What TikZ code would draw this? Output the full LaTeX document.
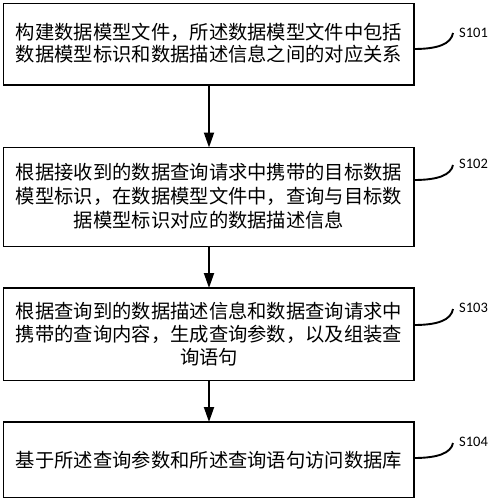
\documentclass[tikz,border=0pt]{standalone}
\usepackage{fontspec}
\newfontfamily\cjk{Noto Sans CJK SC}
\newfontfamily\lbl{Carlito}
\usetikzlibrary{arrows.meta}
\begin{document}
\begin{tikzpicture}[x=1pt,y=-1pt,
  stepbox/.style={draw=black,line width=1.9pt,inner sep=0pt},
  flow/.style={line width=1.9pt,-{Triangle[length=15pt,width=10pt]}},
  lead/.style={line width=1.9pt},
  steptext/.style={inner sep=0pt,align=center},
  steplabel/.style={anchor=west,inner sep=0pt,font=\lbl\fontsize{14.5}{15}\selectfont}]
\useasboundingbox (0,0) rectangle (490,500);
\fill[white] (0,0) rectangle (490,500);
\path[stepbox] (3.5,3.5) rectangle (414,85);
\node[steptext,font=\cjk\fontsize{19.3}{22}\selectfont] (t1) at (209,43) {构建数据模型文件，所述数据模型文件中包括\\数据模型标识和数据描述信息之间的对应关系};
\coordinate (b1n) at (209,3.5); \coordinate (b1s) at (209,85); \coordinate (b1e) at (414,49);
\path[stepbox] (3.5,147.5) rectangle (414,246.5);
\node[steptext,font=\cjk\fontsize{19.3}{24}\selectfont] (t2) at (209,196) {根据接收到的数据查询请求中携带的目标数据\\模型标识，在数据模型文件中，查询与目标数\\据模型标识对应的数据描述信息};
\coordinate (b2n) at (209,147.5); \coordinate (b2s) at (209,246.5); \coordinate (b2e) at (414,180);
\path[stepbox] (3.5,288) rectangle (414,380.5);
\node[steptext,font=\cjk\fontsize{19.3}{23}\selectfont] (t3) at (209,334) {根据查询到的数据描述信息和数据查询请求中\\携带的查询内容，生成查询参数，以及组装查\\询语句};
\coordinate (b3n) at (209,288); \coordinate (b3s) at (209,380.5); \coordinate (b3e) at (414,325);
\path[stepbox] (3.5,422) rectangle (414,497.5);
\node[steptext,font=\cjk\fontsize{19.3}{23}\selectfont] (t4) at (209,460) {基于所述查询参数和所述查询语句访问数据库};
\coordinate (b4n) at (209,422); \coordinate (b4e) at (414,458);
\draw[flow] (b1s) -- (b2n);
\draw[flow] (b2s) -- (b3n);
\draw[flow] (b3s) -- (b4n);
\node[steplabel] (l1) at (459,33) {S101};
\node[steplabel] (l2) at (459,164) {S102};
\node[steplabel] (l3) at (459,308) {S103};
\node[steplabel] (l4) at (459,442) {S104};
\coordinate (e1) at (453,33); \coordinate (e2) at (453,165);
\coordinate (e3) at (453,309); \coordinate (e4) at (453,443);
\draw[lead] (b1e) .. controls (438,49) and (451,44) .. (e1);
\draw[lead] (b2e) .. controls (438,180) and (451,175) .. (e2);
\draw[lead] (b3e) .. controls (438,325) and (451,320) .. (e3);
\draw[lead] (b4e) .. controls (438,458) and (451,453) .. (e4);
\end{tikzpicture}
\end{document}
